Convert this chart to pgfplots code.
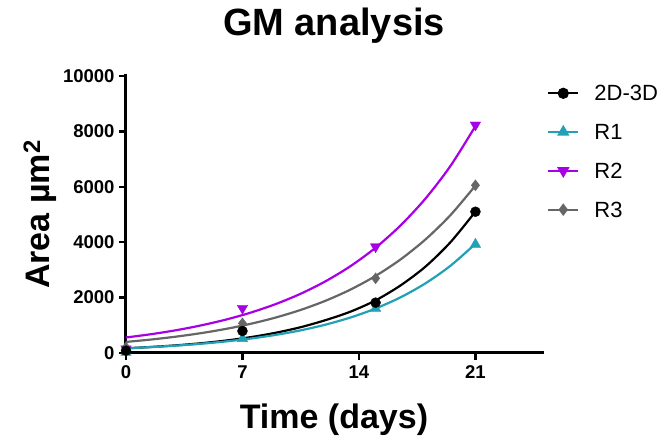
\documentclass[border=0pt]{standalone}
\usepackage{fontspec}
\setmainfont{Liberation Sans}
\usepackage{pgfplots}
\pgfplotsset{compat=1.18}
\definecolor{gmcyan}{HTML}{22A0B6}
\definecolor{gmpurple}{HTML}{A800E6}
\definecolor{gmgray}{HTML}{666666}

% fitted curves
\pgfplotstableread{
x     d23   r1    r2    r3
0     170   170   560   400
1.5   217   213   678   486
3     276   266   821   590
4.5   352   333   995   716
6     449   417   1205  869
7.5   573   522   1459  1055
9     731   654   1767  1281
10.5  932   818   2140  1555
12    1188  1025  2592  1888
13.5  1495  1283  3139  2292
15    1900  1606  3802  2782
16.5  2440  2010  4605  3378
18    3120  2516  5577  4101
19.5  4000  3150  6754  4978
21    5105  3943  8190  6044
}\fitdata
% measured points
\pgfplotstableread{
x    d23   r1    r2    r3
0    85    20    150   200
7    794   520   1614  1071
15   1817  1613  3837  2696
21   5100  3924  8231  6053
}\meandata

\pgfplotsset{
  gm/.style={line width=2.2pt, smooth},
  gmlegend/.style={legend image code/.code={
    \draw[##1, mark repeat=2, mark phase=2] plot coordinates {(0pt,0pt) (15pt,0pt) (30pt,0pt)};}},
}

\begin{document}
\begin{tikzpicture}[x=1pt,y=1pt]
\useasboundingbox (-126,-85) rectangle (543,353);
\begin{axis}[
  at={(0,0)}, anchor=south west,
  width=416pt, height=277pt, scale only axis,
  xmin=0, xmax=25, ymin=0, ymax=10000,
  axis x line*=bottom, axis y line*=left,
  axis line style={line width=3pt, line cap=rect},
  xtick={0,7,14,21}, ytick={0,2000,4000,6000,8000,10000},
  tick style={line width=2.5pt, black},
  tick align=outside, major tick length=7pt,
  scaled y ticks=false,
  tick label style={font=\fontsize{18.5}{18.5}\selectfont\bfseries},
  /pgf/number format/assume math mode=true,
  yticklabel style={/pgf/number format/1000 sep={}, xshift=-1pt},
  xticklabel style={yshift=-2pt},
  xlabel={Time (days)},
  xlabel style={font=\fontsize{34}{34}\selectfont\bfseries, at={(axis description cs:0.5,-0.271)}, anchor=base},
  ylabel={Area µm\textsuperscript{2}},
  ylabel style={font=\fontsize{34}{34}\selectfont\bfseries, at={(axis description cs:-0.207,0.5)}, anchor=center},
  title={GM analysis},
  title style={font=\fontsize{38}{38}\selectfont\bfseries, at={(axis description cs:0.5,1.123)}, anchor=base},
  clip=false,
  legend style={draw=none, fill=none, at={(axis description cs:1.012,0.966)}, anchor=north west,
    font=\fontsize{22}{22}\selectfont, row sep=23.5pt, column sep=15pt, inner sep=0pt,
    nodes={inner sep=0pt, text depth=0pt}},
  legend cell align=left,
  gmlegend,
]
\addplot[gm, black, forget plot] table[x=x, y=d23] {\fitdata};
\addplot[gm, gmcyan, forget plot] table[x=x, y=r1] {\fitdata};
\addplot[gm, gmpurple, forget plot] table[x=x, y=r2] {\fitdata};
\addplot[gm, gmgray, forget plot] table[x=x, y=r3] {\fitdata};

\addplot[only marks, gmcyan, mark=triangle*, mark size=6pt, forget plot] table[x=x, y=r1] {\meandata};
\addplot[only marks, gmpurple, mark=triangle*, mark size=6pt, mark options={rotate=180}, forget plot] table[x=x, y=r2] {\meandata};
\addplot[only marks, gmgray, mark=diamond*, mark size=5.5pt, forget plot] table[x=x, y=r3] {\meandata};
\addplot[only marks, black, mark=*, mark size=5pt, forget plot] table[x=x, y=d23] {\meandata};

\addlegendimage{black, line width=2.2pt, mark=*, mark size=4.5pt}
\addlegendentry{2D-3D}
\addlegendimage{gmcyan, line width=2.2pt, mark=triangle*, mark size=5pt}
\addlegendentry{R1}
\addlegendimage{gmpurple, line width=2.2pt, mark=triangle*, mark size=5pt, mark options={rotate=180}}
\addlegendentry{R2}
\addlegendimage{gmgray, line width=2.2pt, mark=diamond*, mark size=4.5pt}
\addlegendentry{R3}
\end{axis}
\end{tikzpicture}
\end{document}
